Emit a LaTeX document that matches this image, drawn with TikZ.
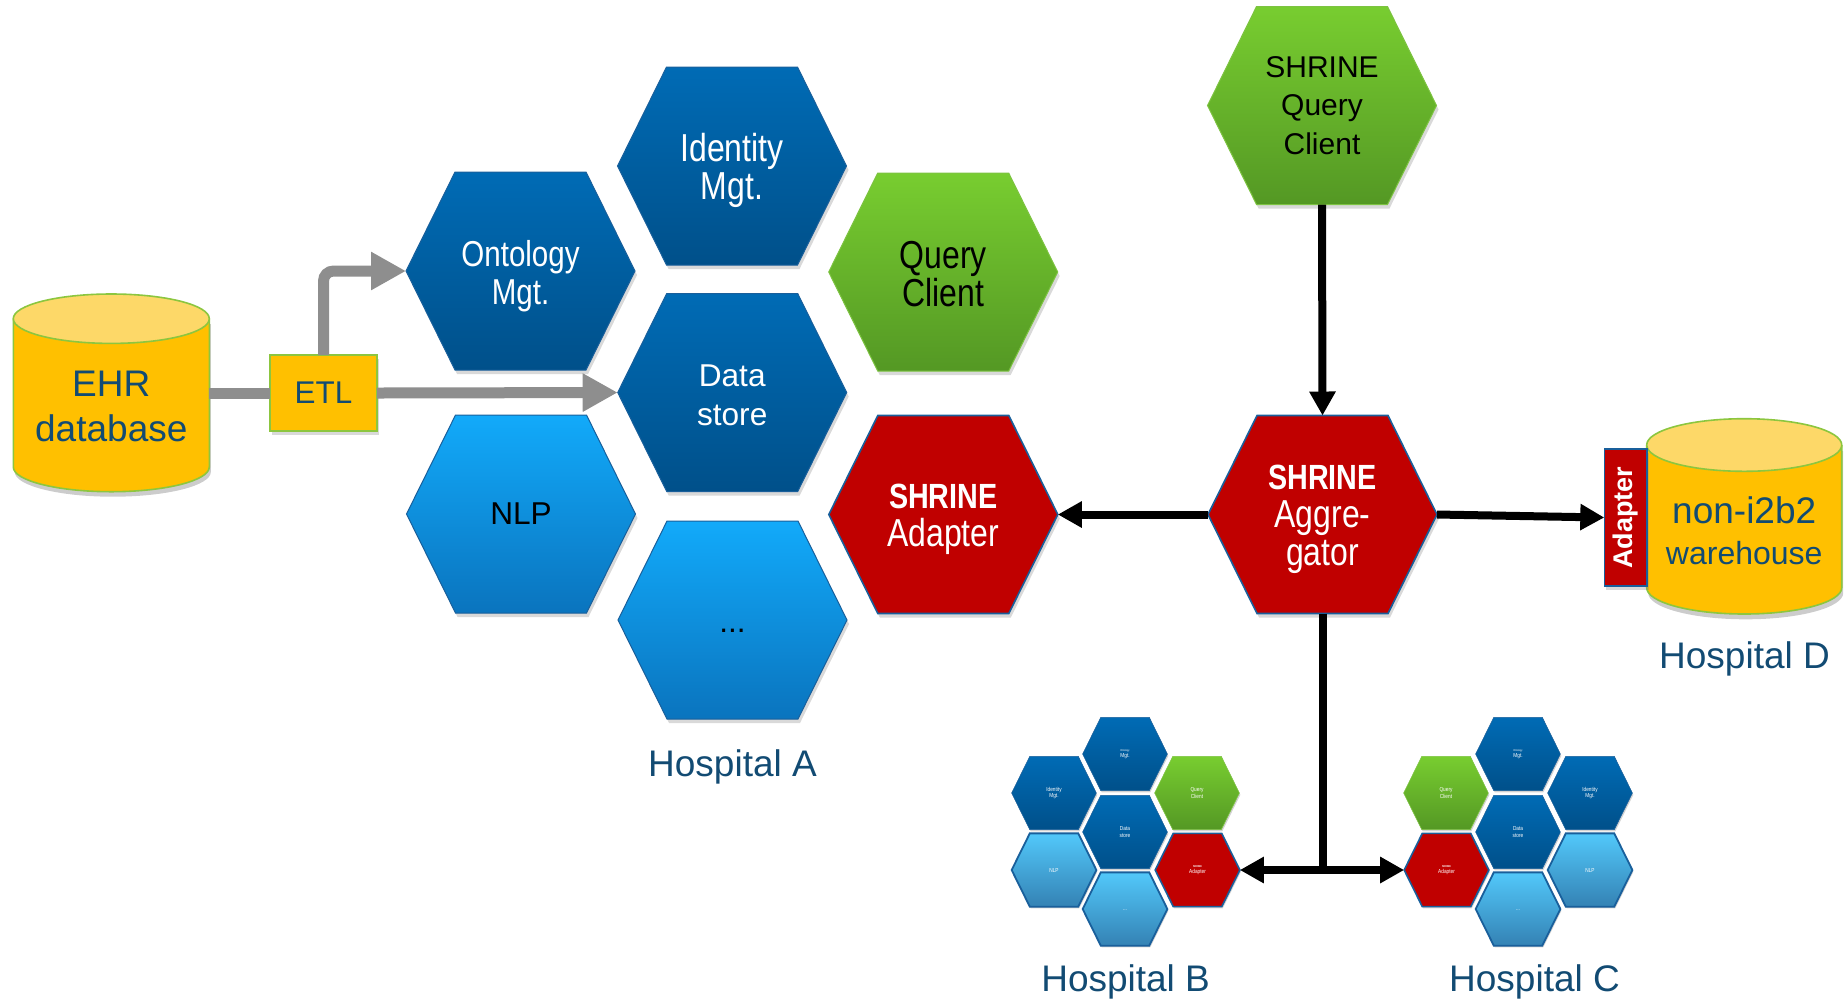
\documentclass[tikz,border=0pt]{standalone}
\usepackage{fontspec}
\usepackage{graphicx}
\setmainfont{Liberation Sans}
\newfontfamily\narrow[FakeStretch=0.82]{Liberation Sans}
\usetikzlibrary{arrows.meta,shadows}
\makeatletter
\newdimen\hxa \newdimen\hxb \newdimen\hya \newdimen\hyb
\newdimen\hxc \newdimen\hym \newdimen\hxl \newdimen\hxr
\pgfdeclareshape{hexa}{%
  \inheritsavedanchors[from=rectangle]%
  \inheritanchorborder[from=rectangle]%
  \inheritanchor[from=rectangle]{center}%
  \inheritanchor[from=rectangle]{north}%
  \inheritanchor[from=rectangle]{south}%
  \inheritanchor[from=rectangle]{east}%
  \inheritanchor[from=rectangle]{west}%
  \inheritanchor[from=rectangle]{north east}%
  \inheritanchor[from=rectangle]{north west}%
  \inheritanchor[from=rectangle]{south east}%
  \inheritanchor[from=rectangle]{south west}%
  \inheritanchor[from=rectangle]{base}%
  \inheritanchor[from=rectangle]{mid}%
  \backgroundpath{%
    \southwest \hxa=\pgf@x \hya=\pgf@y
    \northeast \hxb=\pgf@x \hyb=\pgf@y
    \hxc=\hxb \advance\hxc by -\hxa \hxc=0.214\hxc
    \hym=\hya \advance\hym by \hyb \hym=0.5\hym
    \hxl=\hxa \advance\hxl by \hxc
    \hxr=\hxb \advance\hxr by -\hxc
    \pgfpathmoveto{\pgfqpoint{\hxa}{\hym}}%
    \pgfpathlineto{\pgfqpoint{\hxl}{\hyb}}%
    \pgfpathlineto{\pgfqpoint{\hxr}{\hyb}}%
    \pgfpathlineto{\pgfqpoint{\hxb}{\hym}}%
    \pgfpathlineto{\pgfqpoint{\hxr}{\hya}}%
    \pgfpathlineto{\pgfqpoint{\hxl}{\hya}}%
    \pgfpathclose
  }%
}
\makeatother
\definecolor{navy}{RGB}{18,75,115}
\definecolor{hbT}{RGB}{0,107,181}
\definecolor{hbB}{RGB}{0,80,138}
\definecolor{lbT}{RGB}{18,170,250}
\definecolor{lbB}{RGB}{10,116,190}
\definecolor{grT}{RGB}{120,205,48}
\definecolor{grB}{RGB}{84,152,36}
\definecolor{grLine}{RGB}{125,195,65}
\definecolor{cRed}{RGB}{192,0,0}
\definecolor{hexLine}{RGB}{25,95,155}
\definecolor{slbT}{RGB}{82,200,250}
\definecolor{slbB}{RGB}{52,130,180}
\definecolor{ylw}{RGB}{255,192,0}
\definecolor{ylwTop}{RGB}{253,216,104}
\definecolor{cylLine}{RGB}{140,198,63}
\definecolor{arrGray}{RGB}{142,142,142}
\newcommand{\fNarA}{\narrow\fontsize{19.5}{19}\selectfont}
\newcommand{\fNarB}{\narrow\fontsize{18}{19}\selectfont}
\newcommand{\fShr}{\narrow\fontsize{17.5}{19}\selectfont\bfseries}
\newcommand{\fReg}{\fontsize{15.8}{19.4}\selectfont}
\newcommand{\fRegS}{\fontsize{15}{19.1}\selectfont}
\newcommand{\fSmall}{\narrow\fontsize{2.9}{3.1}\selectfont}
\newcommand{\fTiny}{\fontsize{1.4}{1.5}\selectfont}
\newcommand{\fHosp}{\fontsize{18.5}{20}\selectfont}
\newcommand{\dnshift}[1]{\rule{0pt}{#1}}
\tikzset{
  hexbase/.style={shape=hexa, outer sep=0pt, inner sep=0pt, minimum width=114.5pt, minimum height=99pt, align=center, text=white,
    drop shadow={shadow xshift=1pt, shadow yshift=-2pt, opacity=.3}},
  darkhex/.style={hexbase, top color=hbT, bottom color=hbB, draw=hexLine, line width=.5pt},
  lighthex/.style={hexbase, top color=lbT, bottom color=lbB, draw=hexLine, line width=.5pt, text=black},
  greenhex/.style={hexbase, top color=grT, bottom color=grB, draw=grLine, line width=.5pt, text=black},
  redhex/.style={hexbase, fill=cRed, draw=hexLine, line width=.8pt, text=white},
  sh/.style={shape=hexa, outer sep=0pt, inner sep=0pt, minimum width=42.35pt, minimum height=36.65pt, align=center, text=white, font=\fSmall,
    drop shadow={shadow xshift=.5pt, shadow yshift=-.9pt, opacity=.35}},
  shdark/.style={sh, top color=hbT, bottom color=hbB, draw=hexLine, line width=.3pt},
  shlight/.style={sh, top color=slbT, bottom color=slbB, draw=hexLine, line width=.9pt},
  shgreen/.style={sh, top color=grT, bottom color=grB, draw=grLine, line width=.3pt},
  smallred/.style={sh, fill=cRed, draw=hexLine, line width=.8pt},
  navytext/.style={text=navy, inner sep=0pt, outer sep=0pt, align=center},
  hosp/.style={navytext, font=\fHosp},
  boxshadow/.style={drop shadow={shadow xshift=1pt, shadow yshift=-2pt, opacity=.3}},
  grayline/.style={draw=arrGray, line width=5.5pt},
  grayarrow/.style={grayline, -{Triangle[length=17.5pt,width=18pt]}},
  blkline/.style={draw=black, line width=4pt},
  blkarrow/.style={blkline, -{Triangle[length=12pt,width=12.5pt]}},
}
\begin{document}
\begin{tikzpicture}[x=0.5pt,y=-0.5pt]
\useasboundingbox (0,0) rectangle (1845,998);
% EHR cylinder
\fill[black,opacity=.2] (14.8,324) -- (14.8,472) arc[start angle=180,end angle=0,x radius=98,y radius=24.7] -- (210.8,324) -- cycle;
\filldraw[fill=ylw, draw=cylLine, line width=.8pt] (13.3,318.7) -- (13.3,467) arc[start angle=180,end angle=0,x radius=98,y radius=24.7] -- (209.3,318.7);
\filldraw[fill=ylwTop, draw=cylLine, line width=.8pt] (111.3,318.7) ellipse [x radius=98, y radius=24.7];
% non-i2b2 cylinder
\fill[black,opacity=.2] (1648.2,451) -- (1648.2,593) arc[start angle=180,end angle=0,x radius=97.5,y radius=26.3] -- (1843.2,451) -- cycle;
\filldraw[fill=ylw, draw=cylLine, line width=.8pt] (1646.7,445) -- (1646.7,587.7) arc[start angle=180,end angle=0,x radius=97.5,y radius=26.3] -- (1841.7,445);
\filldraw[fill=ylwTop, draw=cylLine, line width=.8pt] (1744.2,445) ellipse [x radius=97.5, y radius=26.3];

% texts of cylinders
\node[navytext, font=\fontsize{18.5}{22.55}\selectfont, minimum width=98pt] (ehr) at (111.3,406.6) {EHR\\database};
\node[navytext, font=\fontsize{18.5}{20.7}\selectfont] (wh) at (1744.2,530.7) {non-i2b2\\{\fontsize{16}{20.7}\selectfont warehouse}};

% ETL
\node[boxshadow, draw=cylLine, line width=.8pt, fill=ylw, minimum width=53.5pt, minimum height=38pt, inner sep=0pt, outer sep=0pt, text=navy, font=\fontsize{15.7}{17}\selectfont] (etl) at (323.5,393) {ETL};

% Hospital D adapter
\node[boxshadow, draw=hexLine, line width=.8pt, fill=cRed, minimum width=21.2pt, minimum height=68.5pt, inner sep=0pt, outer sep=0pt, text=white, font=\fontsize{13.5}{14}\selectfont\bfseries] (adbox) at (1625.5,517.5) {\rotatebox{90}{Adapter}};

% Hospital A hexes
\node[darkhex, font=\fNarA] (ident) at (732,166) {\dnshift{19pt}Identity\\Mgt.};
\node[darkhex, font=\fNarB] (ont) at (520.5,271) {\dnshift{18pt}Ontology\\Mgt.};
\node[greenhex, font=\fNarA] (qc) at (943.2,272) {\dnshift{15.6pt}Query\\Client};
\node[darkhex, font=\fReg] (ds) at (732.2,392.5) {\dnshift{13.7pt}Data\\store};
\node[lighthex, font=\fReg] (nlp) at (521,514) {NLP};
\node[redhex, font=\fNarA] (sad) at (943.3,514.5) {{\fShr\dnshift{17.2pt}SHRINE}\\Adapter};
\node[lighthex, font=\fReg] (dots) at (732.5,620) {\dnshift{16pt}\vphantom{g}...};

% SHRINE hub
\node[greenhex, font=\fRegS] (sqc) at (1322,105.5) {SHRINE\\Query\\Client};
\node[redhex, font=\fNarA] (agg) at (1322.5,514.5) {{\fShr\dnshift{17.2pt}SHRINE}\\Aggre-\\gator};

% Hospital B
\node[shdark] (bOnt) at (1125,754) {{\fTiny Ontology}\\Mgt.};
\node[shdark] (bId) at (1054,793) {Identity\\Mgt.};
\node[shgreen] (bQc) at (1197,793) {Query\\Client};
\node[shdark] (bDs) at (1125,832) {Data\\store};
\node[shlight] (bNlp) at (1054,870) {NLP};
\node[smallred] (bAd) at (1197.5,870) {{\fTiny\bfseries SHRINE}\\Adapter};
\node[shlight] (bDots) at (1125,909) {\vphantom{Ag}...};

% Hospital C
\node[shdark] (cOnt) at (1518,754) {{\fTiny Ontology}\\Mgt.};
\node[shgreen] (cQc) at (1446,793) {Query\\Client};
\node[shdark] (cId) at (1590,793) {Identity\\Mgt.};
\node[shdark] (cDs) at (1518,832) {Data\\store};
\node[smallred] (cAd) at (1446.5,870) {{\fTiny\bfseries SHRINE}\\Adapter};
\node[shlight] (cNlp) at (1590,870) {NLP};
\node[shlight] (cDots) at (1518,909) {\vphantom{Ag}...};

% labels
\node[hosp, anchor=base] (la) at (732.5,776.7) {Hospital A};
\node[hosp, anchor=base] (lb) at (1125.6,991.5) {Hospital B};
\node[hosp, anchor=base] (lc) at (1534.5,991.5) {Hospital C};
\node[hosp, anchor=base] (ld) at (1744.5,668.3) {Hospital D};

% gray ETL connectors
\draw[grayline] (ehr.east |- etl.west) -- (etl.west);
\draw[grayarrow] (etl.east) -- (ds.west);
\draw[grayarrow, rounded corners=5pt] (etl.north) |- (ont.west);

% black SHRINE connectors
\draw[blkarrow] (sqc.south) -- (agg.north);
\draw[blkarrow] (agg.west) -- (sad.east);
\draw[blkarrow] (agg.east) -- (adbox.west);
\coordinate (jn) at (agg.south |- bAd.east);
\draw[blkline] (agg.south) -- (jn);
\draw[blkarrow] (jn) -- (bAd.east);
\draw[blkarrow] (jn) -- (cAd.west);
\end{tikzpicture}
\end{document}
